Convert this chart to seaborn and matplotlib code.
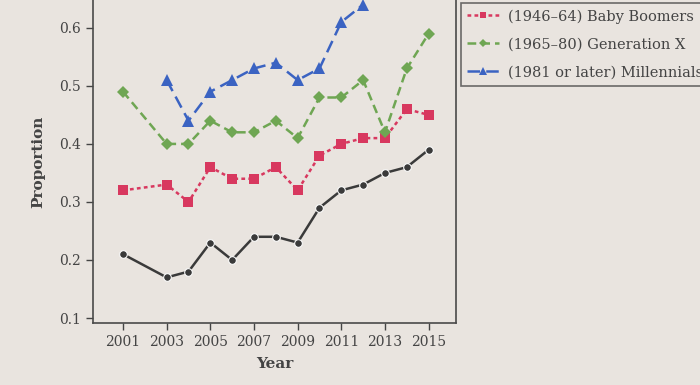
import matplotlib
matplotlib.use("Agg")
import matplotlib.pyplot as plt
import seaborn as sns
import pandas as pd

years = [2001, 2003, 2004, 2005, 2006, 2007, 2008, 2009, 2010, 2011, 2012, 2013, 2014, 2015]
silent = [0.21, 0.17, 0.18, 0.23, 0.20, 0.24, 0.24, 0.23, 0.29, 0.32, 0.33, 0.35, 0.36, 0.39]
boomers = [0.32, 0.33, 0.30, 0.36, 0.34, 0.34, 0.36, 0.32, 0.38, 0.40, 0.41, 0.41, 0.46, 0.45]
gen_x = [0.49, 0.40, 0.40, 0.44, 0.42, 0.42, 0.44, 0.41, 0.48, 0.48, 0.51, 0.42, 0.53, 0.59]
mill_years = [2003, 2004, 2005, 2006, 2007, 2008, 2009, 2010, 2011, 2012]
millennials = [0.51, 0.44, 0.49, 0.51, 0.53, 0.54, 0.51, 0.53, 0.61, 0.64]

labels = ["(1946\u201364) Baby Boomers", "(1965\u201380) Generation X", "(1981 or later) Millennials"]
xticks = [2001, 2003, 2005, 2007, 2009, 2011, 2013, 2015]
yticks = [0.1, 0.2, 0.3, 0.4, 0.5, 0.6]

bg = "#e9e4df"
ink = "#444444"

sns.set_style("ticks")
plt.rcParams["font.family"] = ["DejaVu Serif"]

fig = plt.figure(figsize=(7, 3.85), dpi=100, facecolor=bg)
ax = fig.add_axes([0.133, 0.161, 0.518, 0.839])
ax.set_facecolor(bg)

sns.lineplot(x=years, y=silent, ax=ax, color="#3a3a3a", marker="o", markersize=5.5,
             linewidth=1.8, legend=False)
sns.lineplot(x=years, y=boomers, ax=ax, color="#d8385f", marker="s", markersize=6.5,
             markeredgewidth=0, linewidth=1.8, linestyle=(0, (1.5, 1.3)), label=labels[0])
sns.lineplot(x=years, y=gen_x, ax=ax, color="#6fa653", marker="D", markersize=6,
             markeredgewidth=0, linewidth=1.8, linestyle=(0, (3.5, 2)), label=labels[1])
sns.lineplot(x=mill_years, y=millennials, ax=ax, color="#3b63c2", marker="^", markersize=8,
             markeredgewidth=0, linewidth=1.8, linestyle=(0, (5, 2.5)), label=labels[2])

ax.set_xlim(1999.63, 2016.24)
ax.set_ylim(0.0914, 0.648)
ax.set_xticks(xticks)
ax.set_yticks(yticks)
ax.set_yticklabels([f"{v:.1f}" for v in yticks])
ax.tick_params(colors=ink, labelsize=10, length=5, width=1)
ax.set_xlabel("Year", fontsize=11, fontweight="bold", color=ink, labelpad=6)
ax.set_ylabel("Proportion", fontsize=11, fontweight="bold", color=ink, labelpad=10)
for side in ["left", "bottom", "right"]:
    ax.spines[side].set_color("#4a4a4a")
    ax.spines[side].set_linewidth(1.2)
ax.spines["top"].set_visible(False)

handles, labs = ax.get_legend_handles_labels()
ax.legend_.remove()
leg = fig.legend(handles, labs, loc="lower left", bbox_to_anchor=(0.658, 0.777),
                 fontsize=10.5, frameon=True, fancybox=False, handlelength=2.2,
                 handletextpad=0.6, labelspacing=0.95, borderpad=0.45, borderaxespad=0,
                 markerscale=0.7, labelcolor=ink)
leg.get_frame().set_edgecolor("#4a4a4a")
leg.get_frame().set_facecolor(bg)
leg.get_frame().set_linewidth(1.2)

fig.savefig("out.png", dpi=100, facecolor=bg)
